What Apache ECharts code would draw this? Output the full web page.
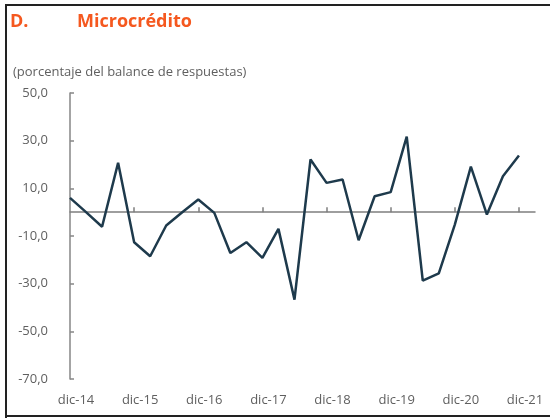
<!DOCTYPE html>
<html>
<head>
<meta charset="utf-8">
<script src="https://cdn.jsdelivr.net/npm/echarts@6/dist/echarts.min.js"></script>
<style>html,body{margin:0;padding:0;background:#fff;}#c{width:550px;height:418px;}</style>
</head>
<body>
<div id="c"></div>
<script>
var categories = ['dic-14','mar-15','jun-15','sep-15','dic-15','mar-16','jun-16','sep-16','dic-16','mar-17','jun-17','sep-17','dic-17','mar-18','jun-18','sep-18','dic-18','mar-19','jun-19','sep-19','dic-19','mar-20','jun-20','sep-20','dic-20','mar-21','jun-21','sep-21','dic-21',''];
var values = [6.0, 0.0, -6.1, 20.7, -12.6, -18.5, -5.6, 0.0, 5.3, -0.3, -17.1, -12.6, -19.2, -7.0, -36.7, 22.1, 12.3, 13.7, -11.8, 6.7, 8.4, 31.7, -28.7, -25.7, -5.2, 19.1, -1.0, 15.1, 23.8, null];
var yTicks = [-70, -50, -30, -10, 10, 30, 50];

var chart = echarts.init(document.getElementById('c'));
var gray = '#5f5f5f';
var fam = '"Open Sans", "Noto Sans", sans-serif';
chart.setOption({
  animation: false,
  title: [
    {text: 'D.', left: 10, top: 13, padding: 0, textStyle: {color: '#F5581F', fontSize: 18, fontWeight: 'bold', fontFamily: fam}},
    {text: 'Microcrédito', left: 77, top: 13, padding: 0, textStyle: {color: '#F5581F', fontSize: 18, fontWeight: 'bold', fontFamily: fam}},
    {text: '(porcentaje del balance de respuestas)', left: 13, top: 66, padding: 0, textStyle: {color: gray, fontSize: 13, fontWeight: 'normal', fontFamily: fam}}
  ],
  graphic: [
    {type: 'line', shape: {x1: 5, y1: 5, x2: 550, y2: 5}, style: {stroke: '#222', lineWidth: 2}},
    {type: 'line', shape: {x1: 6, y1: 5, x2: 6, y2: 418}, style: {stroke: '#222', lineWidth: 2}},
    {type: 'line', shape: {x1: 6, y1: 416, x2: 550, y2: 416}, style: {stroke: '#222', lineWidth: 2}}
  ],
  grid: {left: 70, right: 15, top: 93, bottom: 39},
  xAxis: [
    {
      type: 'category', data: categories, boundaryGap: false, position: 'bottom',
      axisLine: {show: false, onZero: false}, axisTick: {show: false},
      axisLabel: {
        interval: function (i) { return i % 4 === 0; },
        color: gray, fontSize: 13, fontFamily: fam, margin: 15, padding: [0, 0, 0, 12]
      },
      splitLine: {show: false}
    },
    {
      type: 'category', data: categories, boundaryGap: false, position: 'bottom',
      axisLine: {show: true, onZero: true, lineStyle: {color: '#7f7f7f', width: 1.5}},
      axisTick: {show: true, inside: true, length: 5, interval: function (i) { return i > 0 && i % 4 === 0; }, lineStyle: {color: '#7f7f7f', width: 1.5}},
      axisLabel: {show: false},
      splitLine: {show: false}
    }
  ],
  yAxis: {
    type: 'value', min: yTicks[0], max: yTicks[yTicks.length - 1], interval: 20,
    axisLine: {show: true, lineStyle: {color: '#868686', width: 1.5}},
    axisTick: {show: true, inside: true, length: 4, lineStyle: {color: '#868686', width: 1.5}},
    axisLabel: {color: gray, fontSize: 13, fontFamily: fam, margin: 22,
      formatter: function (v) { return v.toFixed(1).replace('.', ','); }},
    splitLine: {show: false}
  },
  series: [{
    type: 'line', data: values, xAxisIndex: 1, showSymbol: false, symbol: 'none',
    lineStyle: {color: '#1E3A4C', width: 2.5}, connectNulls: false
  }]
});
</script>
</body>
</html>
